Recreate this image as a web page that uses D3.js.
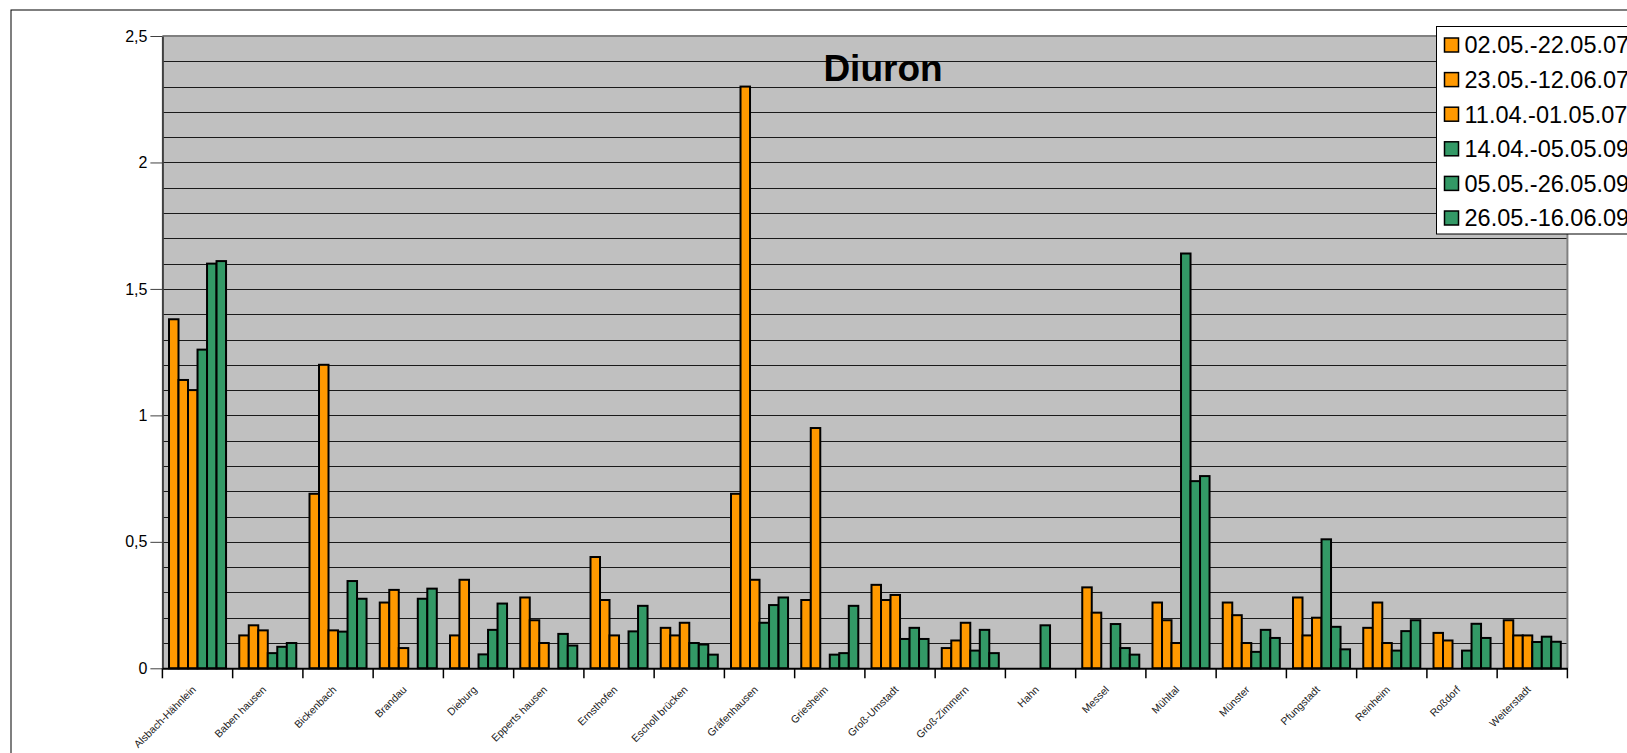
<!DOCTYPE html>
<html><head><meta charset="utf-8">
<script src="https://cdn.jsdelivr.net/npm/d3@7"></script>
<style>
html,body{margin:0;padding:0;background:#fff;overflow:hidden}
text{font-family:Arial,"Liberation Sans",sans-serif}
</style></head>
<body>
<svg id="chart" width="1627" height="753"></svg>
<script>
const categories = ["Alsbach-Hähnlein","Baben hausen","Bickenbach","Brandau","Dieburg","Epperts hausen","Ernsthofen","Escholl brücken","Gräfenhausen","Griesheim","Groß-Umstadt","Groß-Zimmern","Hahn","Messel","Mühltal","Münster","Pfungstadt","Reinheim","Roßdorf","Weiterstadt"];
const seriesNames = ["02.05.-22.05.07","23.05.-12.06.07","11.04.-01.05.07","14.04.-05.05.09","05.05.-26.05.09","26.05.-16.06.09"];
const s1 = [1.38,0.13,0.69,0.26,0.13,0.28,0.44,0.16,0.69,0.27,0.33,0.08,null,0.32,0.26,0.26,0.28,0.16,0.14,0.19];
const s2 = [1.14,0.17,1.20,0.31,0.35,0.19,0.27,0.13,2.30,0.95,0.27,0.11,null,0.22,0.19,0.21,0.13,0.26,0.11,0.13];
const s3 = [1.10,0.15,0.15,0.08,null,0.10,0.13,0.18,0.35,null,0.29,0.18,null,null,0.10,0.10,0.20,0.10,null,0.13];
const s4 = [1.26,0.06,0.145,null,0.055,null,null,0.10,0.18,0.054,0.116,0.07,0.17,0.175,1.64,0.065,0.51,0.07,0.07,0.104];
const s5 = [1.60,0.085,0.345,0.275,0.152,0.136,0.146,0.094,0.25,0.06,0.16,0.152,null,0.08,0.74,0.152,0.164,0.147,0.176,0.125];
const s6 = [1.61,0.10,0.275,0.315,0.256,0.09,0.247,0.054,0.28,0.247,0.116,0.06,null,0.054,0.76,0.12,0.075,0.19,0.12,0.105];
const seriesColors = ["#ff9900","#ff9900","#ff9900","#339966","#339966","#339966"];
const yTickValues = [0,0.5,1,1.5,2,2.5];
const yTickLabels = ["0","0,5","1","1,5","2","2,5"];
const titleText = "Diuron";

const seriesValues = [s1,s2,s3,s4,s5,s6];
const svg = d3.select("#chart");

// outer frame
svg.append("rect").attr("x",11).attr("y",10).attr("width",1700).attr("height",800)
  .attr("fill","#fff").attr("stroke","#000").attr("stroke-width",1);

const L = 162.4, R = 1567.4, T = 36, B = 668.3;
const x = d3.scaleBand().domain(categories).range([L,R]).paddingInner(0).paddingOuter(0);
const y = d3.scaleLinear().domain([0,2.5]).range([B,T]);
const bw = x.bandwidth();
const inner = d3.scaleBand().domain(d3.range(6)).range([bw*0.094, bw*0.906]).padding(0);

// plot area
svg.append("rect").attr("x",L).attr("y",T).attr("width",R-L).attr("height",B-T).attr("fill","#c0c0c0");

// gridlines every 0.1
const grid = d3.range(1,25).map(i=>i/10);
svg.append("g").selectAll("line").data(grid).join("line")
  .attr("x1",L).attr("x2",R)
  .attr("y1",d=>Math.round(y(d))+0.5).attr("y2",d=>Math.round(y(d))+0.5)
  .attr("stroke","#1a1a1a").attr("stroke-width",1);

// top & right border
svg.append("line").attr("x1",L).attr("x2",R).attr("y1",T).attr("y2",T).attr("stroke","#808080").attr("stroke-width",2);
svg.append("line").attr("x1",R).attr("x2",R).attr("y1",T).attr("y2",B).attr("stroke","#808080").attr("stroke-width",2);

// bars
const data = [];
categories.forEach((c,ci)=>{
  seriesValues.forEach((arr,si)=>{
    if(arr[ci]!=null) data.push({c, si, v:arr[ci]});
  });
});
svg.append("g").selectAll("rect").data(data).join("rect")
  .attr("x",d=>x(d.c)+inner(d.si))
  .attr("y",d=>y(d.v))
  .attr("width",inner.bandwidth())
  .attr("height",d=>B-y(d.v))
  .attr("fill",d=>seriesColors[d.si])
  .attr("stroke","#000").attr("stroke-width",2);

// y axis
const yAxis = d3.axisLeft(y).tickValues(yTickValues)
  .tickFormat((d,i)=>yTickLabels[i]).tickSize(12).tickSizeOuter(0).tickPadding(3);
const gy = svg.append("g").attr("transform",`translate(${L},0)`).call(yAxis);
gy.select(".domain").attr("stroke","#404040").attr("stroke-width",2);
gy.selectAll(".tick line").attr("stroke","#404040");
gy.selectAll("text").attr("font-size",16).attr("fill","#000").attr("font-family","Arial, 'Liberation Sans', sans-serif");

// x axis
const xAxis = d3.axisBottom(x).tickSize(0).tickFormat("");
const gx = svg.append("g").attr("transform",`translate(0,${B})`).call(xAxis);
gx.select(".domain").attr("stroke","#000").attr("stroke-width",2);
const boundaries = categories.map(c=>x(c)).concat([R]);
svg.append("g").selectAll("line").data(boundaries).join("line")
  .attr("x1",d=>d).attr("x2",d=>d).attr("y1",B).attr("y2",B+10)
  .attr("stroke","#000").attr("stroke-width",1.5);

// x labels
svg.append("g").selectAll("text").data(categories).join("text")
  .attr("transform",d=>`translate(${x(d)+bw/2-1},${B+22}) rotate(-45)`)
  .attr("text-anchor","end").attr("font-size",10.5).attr("fill","#222")
  .text(d=>d);

// title
svg.append("text").attr("x",883).attr("y",81).attr("text-anchor","middle")
  .attr("font-size",37).attr("font-weight","bold").attr("fill","#000").text(titleText);

// legend
const lg = svg.append("g");
lg.append("rect").attr("x",1436.5).attr("y",26.5).attr("width",300).attr("height",207.5)
  .attr("fill","#fff").attr("stroke","#000").attr("stroke-width",1);
const items = lg.selectAll("g").data(seriesNames).join("g")
  .attr("transform",(d,i)=>`translate(1444.5,${45+i*34.6})`);
items.append("rect").attr("x",0).attr("y",-7).attr("width",14).attr("height",14)
  .attr("fill",(d,i)=>seriesColors[i]).attr("stroke","#000").attr("stroke-width",1.5);
items.append("text").attr("x",20).attr("y",0).attr("dy","0.36em")
  .attr("font-size",23.5).attr("fill","#000").text(d=>d);
</script>
</body></html>
